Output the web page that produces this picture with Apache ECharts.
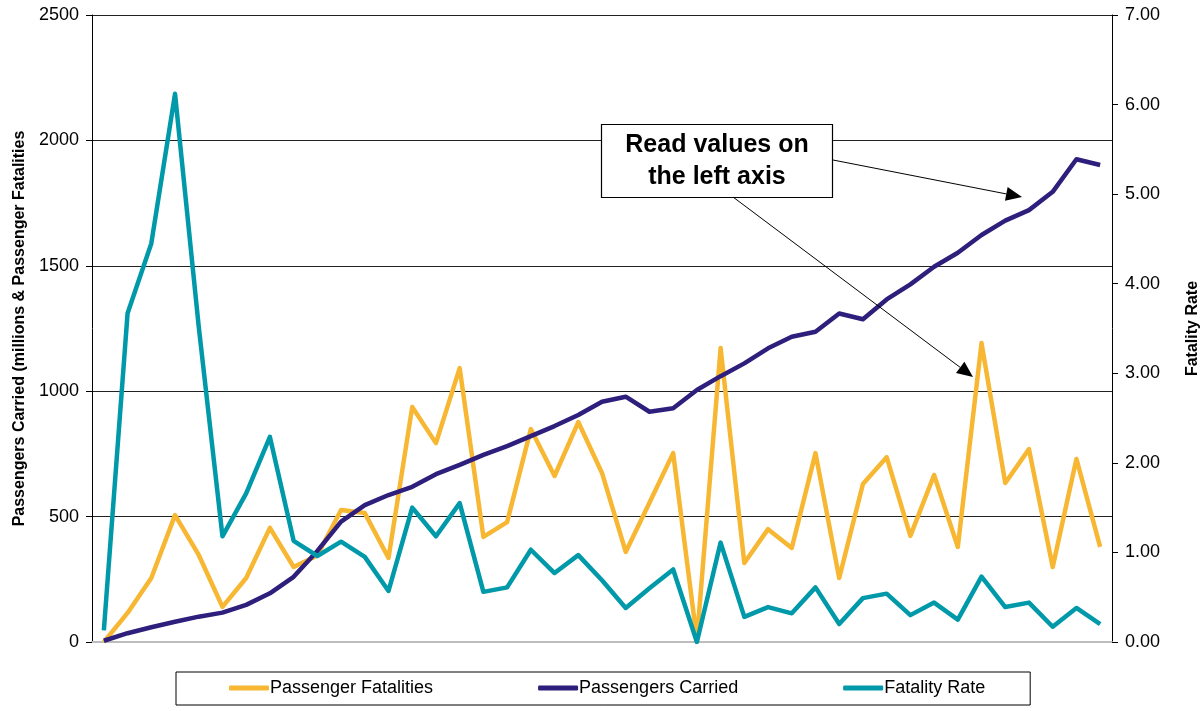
<!DOCTYPE html>
<html>
<head>
<meta charset="utf-8">
<script src="https://cdn.jsdelivr.net/npm/echarts@6/dist/echarts.min.js"></script>
<style>
  html, body { margin: 0; padding: 0; background: #fff; }
  #chart { width: 1203px; height: 711px; }
</style>
</head>
<body>
<div id="chart"></div>
<script>
// values, one per period (43 periods, unlabelled)
const passengerFatalities = [0, 116, 255, 506, 347, 140, 255, 455, 299, 345, 526, 514, 335, 937, 793,
  1092, 419, 478, 849, 662, 877, 674, 359, 555, 753, 10, 1172, 315, 450, 375, 753, 255, 630, 737,
  423, 666, 379, 1192, 634, 769, 299, 730, 379];
const passengersCarried = [5, 35, 59, 81, 101, 117, 148, 194, 260, 363, 480, 546, 586, 619, 669,
  706, 746, 781, 821, 861, 905, 958, 978, 918, 932, 1005, 1060, 1111, 1171, 1217, 1237, 1310, 1287,
  1366, 1426, 1496, 1552, 1623, 1680, 1722, 1795, 1925, 1902];
const fatalityRate = [0.13, 3.67, 4.45, 6.12, 3.52, 1.18, 1.66, 2.29, 1.13, 0.96, 1.12, 0.95, 0.57,
  1.50, 1.18, 1.55, 0.56, 0.61, 1.03, 0.77, 0.97, 0.69, 0.38, 0.60, 0.81, 0.00, 1.11, 0.28, 0.39,
  0.32, 0.61, 0.20, 0.49, 0.54, 0.30, 0.44, 0.25, 0.73, 0.39, 0.44, 0.17, 0.38, 0.20];
const categories = passengerFatalities.map((_, i) => String(i + 1));
const leftTicks = { min: 0, max: 2500, interval: 500 };
const rightTicks = { min: 0, max: 7, interval: 1 };

const FONT = 'Liberation Sans, Arial, sans-serif';
const COLORS = { fatal: '#F7B733', carried: '#2E1F7C', rate: '#0099A9' };

// arrow helper for the note: line plus filled head
function arrow(x1, y1, x2, y2) {
  const a = Math.atan2(y2 - y1, x2 - x1);
  const len = 16, half = 7;
  const bx = x2 - len * Math.cos(a), by = y2 - len * Math.sin(a);
  const px = -Math.sin(a) * half, py = Math.cos(a) * half;
  return [
    { type: 'line', shape: { x1, y1, x2: bx, y2: by }, style: { stroke: '#000', lineWidth: 1 }, z: 100 },
    { type: 'polygon', shape: { points: [[x2, y2], [bx + px, by + py], [bx - px, by - py]] },
      style: { fill: '#000' }, z: 100 }
  ];
}

const chart = echarts.init(document.getElementById('chart'), null, { renderer: 'canvas' });

const option = {
  backgroundColor: '#fff',
  animation: false,
  grid: { left: 92, right: 91, top: 15, bottom: 69, containLabel: false, outerBoundsMode: 'none' },
  legend: {
    left: 176, top: 672,
    padding: [7, 45, 8, 53],
    itemGap: 105,
    itemWidth: 40, itemHeight: 5,
    icon: 'roundRect',
    borderColor: '#000', borderWidth: 1,
    textStyle: { fontFamily: FONT, fontSize: 18, color: '#000', padding: [0, 0, 0, -4] },
    data: ['Passenger Fatalities', 'Passengers Carried', 'Fatality Rate']
  },
  xAxis: {
    type: 'category',
    data: categories,
    boundaryGap: true,
    axisLine: { lineStyle: { color: '#bdbdbd', width: 2 } },
    axisTick: { show: false },
    axisLabel: { show: false }
  },
  yAxis: [
    {
      type: 'value',
      min: leftTicks.min, max: leftTicks.max, interval: leftTicks.interval,
      name: 'Passengers Carried (millions & Passenger Fatalities',
      nameLocation: 'middle', nameRotate: 90, nameGap: 62,
      nameTextStyle: { fontFamily: FONT, fontSize: 16, fontWeight: 'bold', color: '#000' },
      axisLine: { show: true, lineStyle: { color: '#000', width: 1 } },
      axisTick: { show: true, length: 6, lineStyle: { color: '#000' } },
      axisLabel: { fontFamily: FONT, fontSize: 18, color: '#000', margin: 13,
        formatter: v => String(v) },
      splitLine: { show: true, lineStyle: { color: '#222', width: 1 } }
    },
    {
      type: 'value',
      position: 'right',
      min: rightTicks.min, max: rightTicks.max, interval: rightTicks.interval,
      name: 'Fatality Rate',
      nameLocation: 'middle', nameRotate: 90, nameGap: 73,
      nameTextStyle: { fontFamily: FONT, fontSize: 16, fontWeight: 'bold', color: '#000' },
      axisLine: { show: true, lineStyle: { color: '#000', width: 1 } },
      axisTick: { show: true, length: 6, lineStyle: { color: '#000' } },
      axisLabel: { fontFamily: FONT, fontSize: 18, color: '#000', margin: 13,
        formatter: v => v.toFixed(2) },
      splitLine: { show: false }
    }
  ],
  series: [
    {
      name: 'Passenger Fatalities', type: 'line', yAxisIndex: 0,
      data: passengerFatalities, symbol: 'none',
      itemStyle: { color: COLORS.fatal },
      lineStyle: { color: COLORS.fatal, width: 4.5, join: 'round' }
    },
    {
      name: 'Passengers Carried', type: 'line', yAxisIndex: 0,
      data: passengersCarried, symbol: 'none',
      itemStyle: { color: COLORS.carried },
      lineStyle: { color: COLORS.carried, width: 4.5, join: 'round' }
    },
    {
      name: 'Fatality Rate', type: 'line', yAxisIndex: 1,
      data: fatalityRate, symbol: 'none',
      itemStyle: { color: COLORS.rate },
      lineStyle: { color: COLORS.rate, width: 4.5, join: 'round' }
    }
  ],
  graphic: [
    ...arrow(833, 160, 1022, 197),
    ...arrow(733, 197, 973, 377),
    {
      type: 'rect', z: 101,
      shape: { x: 601.5, y: 124.5, width: 231, height: 73 },
      style: { fill: '#fff', stroke: '#000', lineWidth: 1.2 }
    },
    {
      type: 'text', z: 102,
      style: {
        x: 717, y: 161,
        text: 'Read values on\nthe left axis',
        font: 'bold 25px ' + FONT,
        fill: '#000', align: 'center', verticalAlign: 'middle', lineHeight: 32
      }
    }
  ]
};

chart.setOption(option);
window.addEventListener('resize', () => chart.resize());
</script>
</body>
</html>
